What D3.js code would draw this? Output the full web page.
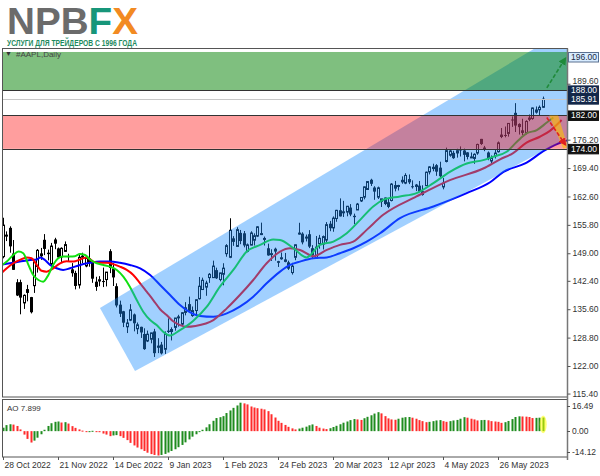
<!DOCTYPE html>
<html><head><meta charset="utf-8">
<script src="https://cdn.jsdelivr.net/npm/d3@7"></script>
<style>
html,body{margin:0;padding:0;background:#fff;}
svg{display:block;font-family:"Liberation Sans",Arial,sans-serif;}
</style></head><body>
<svg id="c" width="600" height="476"></svg>
<script>
// ---------------- DATA ----------------
const dateLabels = ["28 Oct 2022","21 Nov 2022","14 Dec 2022","9 Jan 2023","1 Feb 2023","24 Feb 2023","20 Mar 2023","12 Apr 2023","4 May 2023","26 May 2023"];
const dateLabelBars = [0,16,32,48,64,80,96,112,128,144];

const open = [148.2,153.16,155.08,148.95,142.06,142.09,137.11,140.41,138.5,141.24,145.82,148.97,152.22,149.13,146.43,152.31,150.16,148.13,149.45,148.31,145.14,144.29,141.4,148.21,145.96,147.77,147.07,142.19,142.36,142.34,142.7,149.5,145.35,141.11,136.69,135.11,131.39,132.98,134.35,130.92,131.38,129.67,127.99,128.41,130.28,126.89,127.13,126.01,130.47,130.26,131.25,133.88,132.03,134.83,136.82,134.08,135.28,138.12,140.31,140.89,143.17,143.16,144.96,142.7,143.97,148.9,148.03,152.57,150.64,153.88,153.78,149.46,150.95,152.12,153.11,153.51,152.35,150.2,148.87,150.09,147.11,147.71,147.05,146.83,144.38,148.04,153.79,153.7,152.81,153.56,150.21,147.81,151.28,151.19,152.16,156.08,155.07,157.32,159.3,158.83,158.86,159.94,157.97,159.37,161.53,162.44,164.27,166.6,164.74,162.43,161.42,162.35,161.22,161.63,164.59,165.09,166.1,165.8,166.09,165.05,165.0,165.19,163.06,165.19,168.49,169.28,170.09,169.5,164.89,170.98,172.48,173.05,173.02,173.85,173.62,173.16,171.99,171.71,173.0,176.39,173.98,173.13,171.09,172.41,173.32,176.96,177.33,177.7,181.03,182.63,179.97,178.44,177.9,181.5,181.27,182.8,183.37,183.96];
const high = [157.5,154.24,155.45,152.17,142.8,142.67,139.15,141.43,138.55,146.87,150.01,150.28,153.59,149.87,151.48,152.7,150.37,150.42,151.83,148.88,146.64,144.81,148.72,149.13,148.0,150.92,147.3,143.37,143.52,145.57,144.5,149.97,146.66,141.8,137.65,135.2,133.25,136.81,134.56,132.42,131.41,131.03,130.48,129.95,130.9,128.66,127.77,130.29,133.41,131.26,133.51,134.26,134.92,137.29,138.61,136.25,138.02,143.32,143.16,142.43,144.25,147.23,145.55,144.34,146.61,151.18,157.38,153.1,155.23,154.58,154.33,151.34,154.26,153.77,155.5,156.33,153.0,151.3,149.95,150.34,147.19,149.17,149.08,147.23,146.71,151.11,156.3,154.03,153.47,154.54,150.94,153.14,153.4,153.25,156.46,156.74,157.82,159.4,162.14,161.55,160.34,160.77,158.49,161.05,162.47,165.0,166.29,166.84,165.05,164.96,162.03,162.36,162.06,165.8,166.32,165.39,167.41,168.16,167.87,166.45,165.6,166.31,165.28,168.56,169.85,170.45,170.35,170.92,167.04,174.3,173.85,173.54,174.03,174.59,174.06,173.21,173.14,172.93,175.24,176.39,174.71,173.38,172.42,173.9,175.77,178.99,179.35,180.12,181.78,184.95,180.12,181.21,180.84,182.23,183.89,184.15,184.39,186.52];
const low = [147.8,151.92,149.13,145.0,138.75,134.38,135.67,137.49,134.59,139.5,144.37,147.43,148.56,147.29,146.15,149.97,147.72,146.93,149.34,147.12,143.38,140.35,140.55,146.61,145.65,145.77,141.92,140.0,141.1,140.9,141.06,144.24,141.16,136.03,133.73,131.32,129.89,132.75,130.3,129.64,128.72,125.87,127.73,127.43,124.17,125.08,124.76,124.89,129.89,128.12,130.46,131.44,131.66,134.13,135.03,133.77,134.22,137.9,140.3,138.81,141.9,143.08,142.85,142.28,141.32,148.17,147.83,150.78,150.64,151.17,150.42,149.22,150.92,150.86,152.88,153.35,150.85,148.41,147.16,147.24,145.72,147.45,146.83,145.01,143.9,147.33,153.46,151.13,151.83,150.23,147.61,147.7,150.1,149.92,151.64,154.28,154.15,156.54,157.81,157.68,157.85,157.87,155.98,159.35,161.27,161.91,164.22,165.11,161.8,162.0,160.08,160.51,159.78,161.42,163.82,164.03,165.65,165.54,165.56,164.49,163.89,163.73,162.8,165.19,167.88,168.64,167.54,167.16,164.31,170.76,172.11,171.6,171.9,172.17,171.0,171.47,171.8,170.42,172.58,174.94,173.45,171.28,170.52,171.69,173.11,176.57,176.76,176.93,179.26,178.04,177.43,177.32,177.46,180.63,180.97,182.44,182.02,183.78];
const close = [155.74,153.34,150.65,145.03,138.88,138.38,138.92,139.5,134.87,146.87,149.7,148.28,150.04,148.79,150.72,151.29,148.01,150.18,151.07,148.11,144.22,141.17,148.03,148.31,147.81,146.63,142.91,140.94,142.65,142.16,144.49,145.47,143.21,136.5,134.51,132.37,132.3,135.45,132.23,131.86,130.03,126.04,129.61,129.93,125.07,126.36,125.02,129.62,130.15,130.73,133.49,133.41,134.76,135.94,135.21,135.27,137.87,141.11,142.53,141.86,143.96,145.93,143.0,144.29,145.43,150.82,154.5,151.73,154.65,151.92,150.87,151.01,153.85,153.2,155.33,153.71,152.55,148.48,148.91,149.4,146.71,147.92,147.41,145.31,145.91,151.03,153.83,151.6,152.87,150.59,148.5,150.47,152.59,152.99,155.85,155.0,157.4,159.28,157.83,158.93,160.25,158.28,157.65,160.77,162.36,164.9,166.17,165.63,163.76,164.66,162.03,160.8,160.1,165.56,165.21,165.23,166.47,167.63,166.65,165.02,165.33,163.77,163.76,168.41,169.68,169.59,168.54,167.45,165.79,173.57,173.5,171.77,173.56,173.75,172.57,172.07,172.07,172.69,175.05,175.16,174.2,171.56,171.84,172.99,175.43,177.3,177.25,180.09,180.95,179.58,179.21,177.82,180.57,180.96,183.79,183.31,183.95,185.91];

// Alligator lines (bar position, price)
const lipsBar = [-1,1.1,3,4.5,5.9,7.4,8.8,10.3,11.7,13.2,14.6,16.1,17.5,19.5,20.9,22.4,23.9,25.3,27.3,29.2,31.1,33.1,35,36.9,38.9,40.8,42.8,44.7,46.6,48.6,51.5,55.3,59.3,63.1,67,70.9,74.8,78.6,80.6,84.5,88.3,92.2,96.1,100,103.9,107.7,110.6,115.5,120.3,125.2,130,134.9,139.7,142.6,146.5,149.5,152.3,155.3,158.2,160.1];
const lipsVal = [145.8,147,148.6,149.4,149,146.2,143.8,142.6,142.2,143.8,146.2,147.8,148.2,148.2,148.3,148.8,148.6,147.5,146.6,146.2,145.8,145,143.4,141,137.8,135,133,131.8,130.2,129.3,130.6,132.8,136.2,141,145,149.4,151,152.3,152.2,150.2,148,151,151.8,153.8,157,160.2,161.8,162.6,163.4,165.8,168.5,170.5,171.3,172.1,173.3,175.7,177.7,178.5,180.3,181.5];
const teethBar = [-1,1.1,3,4.9,6.9,8.3,9.8,11.2,12.7,14.6,16.6,18.5,20.5,22.4,24.3,26.3,28.2,30.2,32.1,34,36,37.9,39.9,41.8,43.7,45.7,47.6,49.5,51.5,53.4,56,61.2,65.1,68.9,72.8,76.7,80.6,83.5,86.4,90.3,94.2,98,101.9,105.8,110.6,120.3,130,139.7,144.6,148.4,152.3,156.2,159.1,162.5];
const teethVal = [143.8,145.4,146.6,147.4,148,147.8,146.2,144.8,144.6,145.4,146.6,147.1,147,147.5,148,147,146.7,146.7,146.4,145.8,145,143.8,141.8,139.8,137.8,135.6,134.2,132.7,131.8,131.4,131.6,133,135.8,139,142.6,146.6,149.4,150.2,149.8,148.3,149.8,151,151.8,154.6,158.2,162.6,166.5,169.3,171.5,173,175.5,176.9,178.3,180.9];
const jawBar = [-1,2,4.9,7.9,9.8,10.8,12.2,13.7,15.6,17.5,19.5,22.4,25.3,28.2,31.1,34,36.9,39.9,42.8,45.7,48.6,51.5,53.4,57.3,61.2,65.1,68.9,72.8,76.7,80.6,83.5,86.4,90.3,94.2,98,101.9,105.8,109.7,115.5,125.2,134.9,141.7,145.6,151.9,157.7,162.9,165];
const jawVal = [146.2,146.6,147,147.4,147.5,148,147.4,146.2,145.4,145,145.4,146.2,146.7,147,147,146.7,146.2,145.4,143.8,141.4,139,136.6,135.4,134,133.8,134.6,136.2,138.6,141.8,144.6,146.2,147,147.8,148,149,150.2,151.8,153.8,157.4,160.2,163.4,166,168.5,170.5,173.7,175.7,176.2];

// Awesome Oscillator values
const aoValues = [2.0,3.5,4.0,3.8,3.0,1.0,-2.0,-4.5,-6.6,-5.5,-3.8,-1.8,0.8,3.0,4.6,5.4,5.6,5.0,5.2,4.4,2.9,1.9,1.0,0.3,-0.5,-0.3,0.2,0.0,-0.6,-1.4,-2.0,-2.9,-2.5,-2.3,-2.9,-3.9,-5.2,-6.8,-8.3,-9.5,-10.5,-11.5,-12.5,-13.3,-13.8,-14.12,-13.8,-13.2,-12.4,-11.5,-10.5,-9.3,-8.0,-6.5,-4.8,-3.2,-1.8,-0.5,0.8,2.2,4.0,6.0,7.6,8.1,8.7,10.5,12.0,13.5,14.9,16.49,16.1,15.5,14.3,13.7,13.3,13.0,12.6,11.6,9.8,7.9,6.0,4.8,3.6,2.5,1.6,1.0,1.5,2.0,2.6,3.4,3.9,3.0,2.0,1.5,1.2,1.7,2.4,3.1,4.0,4.9,5.6,6.4,7.0,6.8,6.5,7.5,8.3,9.2,10.2,11.0,10.3,8.7,7.4,6.8,6.6,7.2,7.8,8.1,8.2,7.8,7.2,6.4,5.8,5.2,5.4,5.8,6.2,6.4,5.8,5.4,5.8,6.2,6.5,7.2,8.1,7.8,7.2,6.8,6.2,6.4,6.5,6.3,5.8,5.6,5.4,4.8,5.2,5.9,7.0,8.2,8.6,8.5,8.4,8.2,7.6,7.7,7.8,7.899];

// Price axis labels (the ones not covered by price tags)
const priceTicks = ["189.60","176.20","169.40","162.60","155.80","149.00","142.40","135.60","128.80","122.00","115.40"];
const aoTicks = ["16.49","0.00","-14.12"];

// Drawn objects (bar position, price)
const channelBar = [28.2,38.4,173.7,173.7];
const channelVal = [135.9,120.8,180.9,207.4];
const greenZone = [188, 197.2];
const redZone = [174, 182];
const levelLines = [188, 182, 174];
const bidPrice = 185.91;
const priceTags = ["196.00","188.00","185.91","182.00","174.00"];
const upArrowBar = [158.2,163.6];
const upArrowVal = [188.6,195.7];
const downArrowBar = [158.2,163.6];
const downArrowVal = [181.5,175.0];
const wedgeBar = [158.9,161.5,164.3,163.0];
const wedgeVal = [182.0,182.0,174.4,174.0];

// ---------------- DRAW ----------------
const svg = d3.select("#c");
const L = 2, R = 567, mainTop = 49, mainBot = 397, aoTop = 400, aoBot = 457;
const x = d3.scaleLinear().domain([0,157]).range([3, 3 + 157*3.4375]);
const y = d3.scaleLinear().domain([122,196]).range([366,57]);
const yAO = d3.scaleLinear().domain([-14.12,16.49]).range([455.5,402.7]);

const defs = svg.append("defs");
defs.append("clipPath").attr("id","cm").append("rect").attr("x",L).attr("y",mainTop).attr("width",R-L).attr("height",mainBot-mainTop);
defs.append("clipPath").attr("id","ca").append("rect").attr("x",L).attr("y",aoTop).attr("width",R-L).attr("height",aoBot-aoTop);
const mk = (id,color)=>defs.append("marker").attr("id",id).attr("viewBox","0 0 10 10").attr("refX",8).attr("refY",5)
  .attr("markerWidth",5).attr("markerHeight",5).attr("orient","auto")
  .append("path").attr("d","M0,0L10,5L0,10z").attr("fill",color);
mk("ag","#1f8a3a"); mk("ar","#e02020");

// Logo
const logo = svg.append("text").attr("x",7).attr("y",34).attr("font-size",36).attr("font-weight","bold")
  .attr("textLength",131).attr("lengthAdjust","spacingAndGlyphs");
logo.append("tspan").attr("fill","#6b6b6b").text("NPB");
logo.append("tspan").attr("fill","#17967a").text("F");
logo.append("tspan").attr("fill","#f28a22").text("X");
svg.append("text").attr("x",7).attr("y",45.5).attr("font-size",8.2).attr("font-weight","bold").attr("fill","#1d8a5e")
  .attr("textLength",130).attr("lengthAdjust","spacingAndGlyphs").text("УСЛУГИ ДЛЯ ТРЕЙДЕРОВ С 1996 ГОДА");

const gm = svg.append("g").attr("clip-path","url(#cm)");

// candles
const idx = d3.range(close.length);
const cg = gm.append("g");
idx.forEach(i=>{
  const px = Math.round(x(i));
  cg.append("line").attr("x1",px+0.5).attr("x2",px+0.5).attr("y1",y(high[i])).attr("y2",y(low[i]))
    .attr("stroke","#000").attr("stroke-width",1);
  const top = y(Math.max(open[i],close[i])), bot = y(Math.min(open[i],close[i]));
  const h = Math.max(1, bot-top);
  if (close[i] >= open[i]) {
    cg.append("rect").attr("x",px-0.5).attr("y",top).attr("width",2).attr("height",h)
      .attr("fill","#fff").attr("stroke","#000").attr("stroke-width",1);
  } else {
    cg.append("rect").attr("x",px-1).attr("y",top).attr("width",3).attr("height",h).attr("fill","#000");
  }
});

// alligator
const ln = d3.line().x(d=>x(d[0])).y(d=>y(d[1])).curve(d3.curveMonotoneX);
[[jawBar,jawVal,"#0000ff"],[teethBar,teethVal,"#ff0000"],[lipsBar,lipsVal,"#10e010"]].forEach(([b,v,c])=>{
  gm.append("path").attr("d",ln(d3.zip(b,v))).attr("fill","none").attr("stroke",c).attr("stroke-width",2).attr("stroke-linejoin","round");
});

// channel
gm.append("path").attr("d", d3.line().x(d=>x(d[0])).y(d=>y(d[1]))(d3.zip(channelBar,channelVal))+"Z")
  .attr("fill","#1e90ff").attr("fill-opacity",0.42);

// zones
gm.append("rect").attr("x",L).attr("width",R-L).attr("y",y(greenZone[1])).attr("height",y(greenZone[0])-y(greenZone[1]))
  .attr("fill","#008000").attr("fill-opacity",0.5);
gm.append("rect").attr("x",L).attr("width",R-L).attr("y",y(redZone[1])).attr("height",y(redZone[0])-y(redZone[1]))
  .attr("fill","#ff0000").attr("fill-opacity",0.38);

// level lines
gm.append("line").attr("x1",L).attr("x2",R).attr("y1",Math.round(y(bidPrice))+0.5).attr("y2",Math.round(y(bidPrice))+0.5)
  .attr("stroke","#c8c8c8").attr("stroke-width",1);
levelLines.forEach(v=>{
  gm.append("line").attr("x1",L).attr("x2",R).attr("y1",Math.round(y(v))+0.5).attr("y2",Math.round(y(v))+0.5)
    .attr("stroke","#333").attr("stroke-width",1);
});

// forecast arrows
gm.append("path").attr("d", d3.line().x(d=>x(d[0])).y(d=>y(d[1]))(d3.zip(wedgeBar,wedgeVal))+"Z")
  .attr("fill","#ffc000").attr("fill-opacity",0.6);
gm.append("path").attr("d", d3.line().x(d=>x(d[0])).y(d=>y(d[1]))(d3.zip(upArrowBar,upArrowVal)))
  .attr("stroke","#1f8a3a").attr("stroke-width",1.6).attr("stroke-dasharray","4,2").attr("fill","none").attr("marker-end","url(#ag)");
gm.append("path").attr("d", d3.line().x(d=>x(d[0])).y(d=>y(d[1]))(d3.zip(downArrowBar,downArrowVal)))
  .attr("stroke","#e02020").attr("stroke-width",1.6).attr("stroke-dasharray","4,2").attr("fill","none").attr("marker-end","url(#ar)");

// AO
const ga = svg.append("g").attr("clip-path","url(#ca)");
aoValues.forEach((v,i)=>{
  const up = i===0 || v > aoValues[i-1];
  const px = Math.round(x(i));
  const y0 = yAO(0), y1 = yAO(v);
  ga.append("rect").attr("x",px-0.5).attr("width",2).attr("y",Math.min(y0,y1)).attr("height",Math.max(1,Math.abs(y1-y0)))
    .attr("fill", up ? "#1f8c1f" : "#ff2b2b");
});
const lastI = aoValues.length-1;
ga.append("ellipse").attr("cx",x(lastI)+0.5).attr("cy",(yAO(0)+yAO(aoValues[lastI]))/2)
  .attr("rx",3.5).attr("ry",(yAO(0)-yAO(aoValues[lastI]))/2+2).attr("fill","#ffff00").attr("fill-opacity",0.55);

// frames
svg.append("rect").attr("x",L+0.5).attr("y",mainTop-0.5).attr("width",R-L).attr("height",mainBot-mainTop+0.5)
  .attr("fill","none").attr("stroke","#555");
svg.append("rect").attr("x",L+0.5).attr("y",aoTop-0.5).attr("width",R-L).attr("height",aoBot-aoTop+0.5)
  .attr("fill","none").attr("stroke","#555");
svg.append("line").attr("x1",R+0.5).attr("x2",R+0.5).attr("y1",mainTop-0.5).attr("y2",aoBot+3).attr("stroke","#777").attr("stroke-width",1.5);

// header label
svg.append("text").attr("x",5).attr("y",56).attr("font-size",7).attr("fill","#333").text("▼");
svg.append("text").attr("x",16).attr("y",57).attr("font-size",8).attr("fill","#444").text("#AAPL,Daily");

// price axis
const yAxis = d3.axisRight(y).tickValues(priceTicks.map(Number)).tickFormat((d,i)=>priceTicks[i]).tickSize(3).tickPadding(2);
svg.append("g").attr("transform",`translate(${R+0.5},0)`).call(yAxis)
  .call(g=>g.select(".domain").remove())
  .call(g=>g.selectAll("text").attr("font-size",8.5).attr("font-family","Liberation Sans, Arial").attr("fill","#333")
     .attr("dy",(d,i)=> i===0 ? "-0.05em" : "0.32em"))
  .call(g=>g.selectAll("line").attr("stroke","#555"));

// price tags
const tagStyle = {"196.00":["#d8ecff","#1a2a44","#5a7090"],"188.00":["#14284a","#fff","#14284a"],"185.91":["#14284a","#fff","#14284a"],"182.00":["#111","#fff","#111"],"174.00":["#111","#fff","#111"]};
priceTags.forEach(t=>{
  const yy = y(+t);
  const st = tagStyle[t];
  svg.append("rect").attr("x",568.5).attr("y",yy-4.5).attr("width",30).attr("height",9.5).attr("fill",st[0]).attr("stroke",st[2]);
  svg.append("text").attr("x",571).attr("y",yy+3).attr("font-size",8.5).attr("fill",st[1]).text(t);
});

// AO labels
svg.append("text").attr("x",7).attr("y",411).attr("font-size",8).attr("fill","#333").text("AO 7.899");
const aoLabelY = v => Math.max(406, Math.min(452, yAO(v)));
aoTicks.forEach(t=>{
  const yy = aoLabelY(+t);
  svg.append("line").attr("x1",R).attr("x2",R+3).attr("y1",Math.round(yy)+0.5).attr("y2",Math.round(yy)+0.5).attr("stroke","#555");
  svg.append("text").attr("x",572).attr("y",yy+3).attr("font-size",8.5).attr("fill","#333").text(t);
});

// time axis
const xAxis = d3.axisBottom(x).tickValues(dateLabelBars).tickFormat((d,i)=>dateLabels[i]).tickSize(3).tickPadding(2);
svg.append("g").attr("transform",`translate(0,${aoBot})`).call(xAxis)
  .call(g=>g.select(".domain").remove())
  .call(g=>g.selectAll("line").attr("stroke","#555"))
  .call(g=>g.selectAll("text").attr("text-anchor","start").attr("dx",1).attr("font-size",8.5)
     .attr("font-family","Liberation Sans, Arial").attr("fill","#333"));
</script>
</body></html>
